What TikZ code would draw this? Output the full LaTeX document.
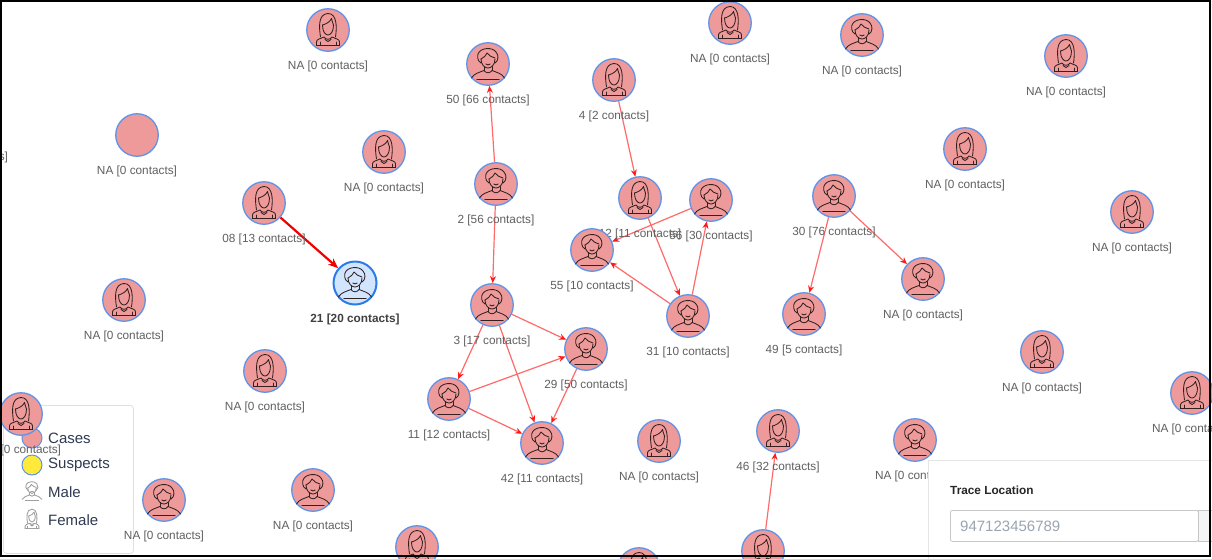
\documentclass[tikz,border=0pt]{standalone}
\usepackage{fontspec}
\setmainfont{Liberation Sans}
\usetikzlibrary{arrows.meta}
\definecolor{casefill}{HTML}{EE9A9A}
\definecolor{caseline}{HTML}{5F93E8}
\definecolor{edgered}{HTML}{FF6A6A}
\definecolor{labgray}{HTML}{606060}
\definecolor{icon}{HTML}{33201F}
\definecolor{legtext}{HTML}{2F3B52}
\definecolor{hubline}{HTML}{2B7CE9}
\definecolor{hubfill}{HTML}{D2E5FF}
\definecolor{suspect}{HTML}{FFE93B}
\definecolor{hint}{HTML}{9AA5B1}
\pgfdeclarelayer{edgelayer}
\pgfsetlayers{edgelayer,main}
\tikzset{
  casenode/.style={circle,draw=caseline,fill=casefill,line width=1.3pt,minimum size=42.5pt,inner sep=0pt},
  hubnode/.style={circle,draw=hubline,fill=hubfill,line width=2pt,minimum size=43pt,inner sep=0pt},
  lab/.style={text=labgray,font=\fontsize{11.8}{13}\selectfont,inner sep=0pt},
  lnk/.style={edgered,line width=1.2pt,-{Stealth[length=7pt,width=6pt,color=red!90!white]}},
  lnkbold/.style={red!95!black,line width=2.2pt,-{Stealth[length=10pt,width=8pt]}},
  legendtext/.style={anchor=west,text=legtext,font=\fontsize{15}{17}\selectfont,inner sep=0pt},
  iconline/.style={icon,line width=.85pt,line join=round,line cap=round},
  maleicon/.pic={
    \draw[iconline] (-16.5,14) .. controls (-14,9.5) and (-9,8.5) .. (-4,6.5) .. controls (-2,9.5) and (2,9.5) .. (4,6.5) .. controls (9,8.5) and (14,9.5) .. (16.5,14);
    \draw[iconline,line width=1.3pt] (-11,15.3) -- (11,15.3);
    \draw[iconline] (-4,6.5) -- (-4,2.5) (4,6.5) -- (4,2.5);
    \draw[iconline] (-7,-5) .. controls (-7,1) and (-3,4) .. (0,4) .. controls (3,4) and (7,1) .. (7,-5);
    \draw[iconline] (-7,-1) .. controls (-11,-3) and (-11,-9) .. (-9.5,-11) .. controls (-7,-16) and (4,-17.5) .. (8,-12) .. controls (11,-9) and (10.5,-3) .. (7,-1);
    \draw[iconline] (-7,-5) .. controls (-4,-7) and (-2,-8) .. (-1,-11) .. controls (1,-8) and (4,-7) .. (7,-6);
    \draw[iconline] (-2.2,0) .. controls (-1,1.2) and (1,1.2) .. (2.2,0);
  },
  femaleicon/.pic={
    \draw[iconline] (-11.5,15.5) -- (-11.5,12) .. controls (-11.5,9) and (-8,9) .. (-4,7) .. controls (-2.5,10) and (2.5,10) .. (4,7) .. controls (8,9) and (11.5,9) .. (11.5,12) -- (11.5,15.5);
    \draw[iconline,line width=1.2pt] (-11.5,15.5) -- (11.5,15.5);
    \draw[iconline] (-8,15.5) -- (-8,12) (8,15.5) -- (8,12);
    \draw[iconline] (-7.5,7) .. controls (-9,-3) and (-10,-16) .. (0,-16.5) .. controls (9,-16.5) and (9,-3) .. (7.5,7);
    \draw[iconline] (-5.5,-5) .. controls (-5.5,2) and (-2.5,5) .. (0,5) .. controls (2.5,5) and (5.5,2) .. (5.5,-5);
    \draw[iconline] (-5.5,-5) .. controls (-2,-6) and (2,-8) .. (3.5,-11.5) .. controls (4,-9) and (5,-6.5) .. (5.5,-5);
    \draw[iconline] (-3,9.5) -- (0,11.5) -- (3,9.5);
  },
  noicon/.pic={}
}
% name, x, y, icon, label
\newcommand{\person}[5]{%
  \node[casenode] (#1) at (#2,#3) {};
  \pic at (#1) {#4};
  \node[lab] (#1-t) at (#2,#3+36) {#5};
}
\begin{document}
\begin{tikzpicture}[x=1pt,y=-1pt]
\useasboundingbox (0,0) rectangle (1212,558);
\begin{pgfonlayer}{edgelayer}
  \fill[white] (0,0) rectangle (1212,558);
\end{pgfonlayer}
\begin{scope}
\clip (0,0) rectangle (1212,558);
% legend
\node[draw=black!12,fill=white,rounded corners=3pt,line width=.8pt,minimum width=130pt,minimum height=148pt,inner sep=0pt,anchor=north west] (legend) at (3,405) {};
\node[circle,draw=caseline,fill=casefill,line width=1pt,minimum size=20pt,inner sep=0pt] (legcase) at (32,438) {};
\node[circle,draw=caseline,fill=suspect,line width=1pt,minimum size=20pt,inner sep=0pt] (legsusp) at (32,465) {};
\begin{scope}
\colorlet{icon}{black!38}
\pic[scale=.6] at (32,491) {maleicon};
\pic[scale=.6] at (32,519) {femaleicon};
\end{scope}
\node[legendtext] (t1) at (48,438) {Cases};
\node[legendtext] (t2) at (48,465) {Suspects};
\node[legendtext] (t3) at (48,492) {Male};
\node[legendtext] (t4) at (48,520) {Female};
% off-screen label at the left edge
\node[lab] (offleft) at (-32,157) {NA [0 contacts]};
% people
\person{a1}{328}{30}{femaleicon}{NA [0 contacts]}
\person{a2}{730}{23}{femaleicon}{NA [0 contacts]}
\person{a3}{862}{35}{maleicon}{NA [0 contacts]}
\person{a4}{1066}{56}{femaleicon}{NA [0 contacts]}
\person{n50}{488}{64}{maleicon}{50 [66 contacts]}
\person{n4}{614}{80}{femaleicon}{4 [2 contacts]}
\person{a5}{137}{135}{noicon}{NA [0 contacts]}
\person{a6}{384}{152}{femaleicon}{NA [0 contacts]}
\person{a7}{965}{149}{femaleicon}{NA [0 contacts]}
\person{n08}{264}{203}{femaleicon}{08 [13 contacts]}
\person{n2}{496}{184}{maleicon}{2 [56 contacts]}
\person{n12}{640}{198}{femaleicon}{12 [11 contacts]}
\person{n56}{711}{200}{maleicon}{56 [30 contacts]}
\person{n30}{834}{196}{maleicon}{30 [76 contacts]}
\person{a8}{1132}{212}{femaleicon}{NA [0 contacts]}
\person{n55}{592}{250}{maleicon}{55 [10 contacts]}
\person{a9}{124}{300}{femaleicon}{NA [0 contacts]}
\person{n3}{492}{305}{maleicon}{3 [17 contacts]}
\person{n31}{688}{316}{maleicon}{31 [10 contacts]}
\person{a10}{923}{279}{maleicon}{NA [0 contacts]}
\person{n49}{804}{314}{maleicon}{49 [5 contacts]}
\person{a11}{1042}{352}{femaleicon}{NA [0 contacts]}
\person{n29}{586}{349}{maleicon}{29 [50 contacts]}
\person{a12}{265}{371}{femaleicon}{NA [0 contacts]}
\person{n11}{449}{399}{maleicon}{11 [12 contacts]}
\person{a13}{1192}{393}{femaleicon}{NA [0 contacts]}
\person{a14}{21}{414}{femaleicon}{NA [0 contacts]}
\person{n42}{542}{443}{maleicon}{42 [11 contacts]}
\person{a15}{659}{441}{femaleicon}{NA [0 contacts]}
\person{n46}{778}{431}{femaleicon}{46 [32 contacts]}
\person{a16}{915}{440}{maleicon}{NA [0 contacts]}
\person{a17}{164}{500}{maleicon}{NA [0 contacts]}
\person{a18}{313}{490}{maleicon}{NA [0 contacts]}
\person{a19}{417}{547}{femaleicon}{}
\person{a20}{639}{569}{femaleicon}{}
\person{a21}{763}{551}{femaleicon}{}
% highlighted node
\node[hubnode] (n21) at (355,283) {};
\pic at (n21) {maleicon};
\node[lab,font=\fontsize{11.8}{13}\selectfont\bfseries,text=black!75] (n21-t) at (355,319) {21 [20 contacts]};
% edges
\begin{pgfonlayer}{edgelayer}
  \draw[lnk] (n2) -- (n50);
  \draw[lnk] (n4) -- (n12);
  \draw[lnk] (n2) -- (n3);
  \draw[lnk] (n56) -- (n55);
  \draw[lnk] (n12) -- (n31);
  \draw[lnk] (n31) -- (n56);
  \draw[lnk] (n31) -- (n55);
  \draw[lnk] (n30) -- (n49);
  \draw[lnk] (n30) -- (a10);
  \draw[lnk] (n3) -- (n29);
  \draw[lnk] (n3) -- (n11);
  \draw[lnk] (n3) -- (n42);
  \draw[lnk] (n11) -- (n29);
  \draw[lnk] (n11) -- (n42);
  \draw[lnk] (n29) -- (n42);
  \draw[lnk] (a21) -- (n46);
  \draw[lnkbold] (n08) -- (n21);
\end{pgfonlayer}
% trace panel
\node[draw=black!10,fill=white,line width=.8pt,minimum width=300pt,minimum height=110pt,inner sep=0pt,anchor=north west] (panel) at (928,460) {};
\node[anchor=west,inner sep=0pt,font=\fontsize{11.8}{13}\selectfont\bfseries,text=black!85] (tracehead) at (950,490) {Trace Location};
\node[draw=black!22,fill=black!4,line width=.8pt,minimum width=40pt,minimum height=31pt,inner sep=0pt,anchor=north west] (btn) at (1198,510) {};
\node[draw=black!22,fill=white,rounded corners=2pt,line width=.8pt,minimum width=248pt,minimum height=31pt,inner sep=0pt,anchor=north west] (inputbox) at (950,510) {};
\node[anchor=west,inner sep=0pt,font=\fontsize{15}{17}\selectfont,text=hint] (inputtext) at (960,526) {947123456789};
\end{scope}
% outer frame
\draw[black,line width=2pt] (1,1) -- (1209.5,1) -- (1209.5,556) -- (1,556) -- cycle;
\end{tikzpicture}
\end{document}
